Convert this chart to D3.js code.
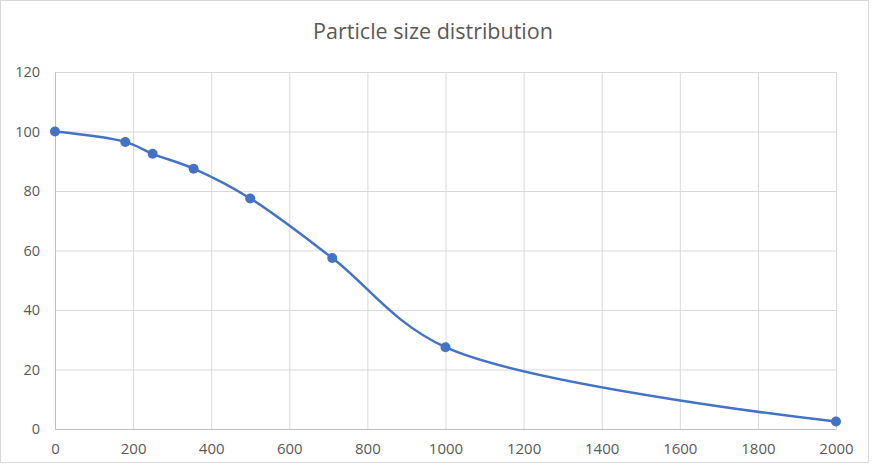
<!DOCTYPE html>
<html>
<head>
<meta charset="utf-8">
<script src="https://cdn.jsdelivr.net/npm/d3@7"></script>
<style>
  body { margin: 0; background: #fff; }
  svg { display: block; font-family: "Open Sans", "DejaVu Sans", sans-serif; }
</style>
</head>
<body>
<svg id="chart" width="873" height="466"></svg>
<script>
// Chart data
const title = 'Particle size distribution';
const sizes = [0, 180, 250, 355, 500, 710, 1000, 2000];
const passing = [100, 96.5, 92.5, 87.5, 77.5, 57.5, 27.5, 2.5];
const xTicks = [0, 200, 400, 600, 800, 1000, 1200, 1400, 1600, 1800, 2000];
const yTicks = [0, 20, 40, 60, 80, 100, 120];

const svg = d3.select('#chart');
const margin = { top: 72, right: 37, bottom: 37, left: 55 };
const width = +svg.attr('width');
const height = +svg.attr('height');
const innerWidth = width - margin.left - margin.right;
const innerHeight = height - margin.top - margin.bottom;
const font = '"Open Sans", "DejaVu Sans", sans-serif';
const blue = '#4472c4';

// outer frame
svg.append('rect')
    .attr('x', 0.5).attr('y', 0.5)
    .attr('width', 868).attr('height', 462)
    .attr('fill', '#fff')
    .attr('stroke', '#d9d9d9');

svg.append('text')
    .attr('x', 433)
    .attr('y', 39)
    .attr('text-anchor', 'middle')
    .attr('font-size', 21.5)
    .attr('fill', '#595959')
    .text(title);

const xScale = d3.scaleLinear().domain([0, 2000]).range([0, innerWidth]);
const yScale = d3.scaleLinear().domain([0, 120]).range([innerHeight, 0]);

const g = svg.append('g')
    .attr('transform', `translate(${margin.left},${margin.top})`);

// gridlines
g.append('g')
    .call(d3.axisLeft(yScale).tickValues(yTicks).tickSize(-innerWidth).tickFormat(''))
    .call(a => a.select('.domain').remove())
    .call(a => a.selectAll('text').remove())
    .call(a => a.selectAll('line').attr('stroke', '#d9d9d9'));

g.append('g')
    .attr('transform', `translate(0,${innerHeight})`)
    .call(d3.axisBottom(xScale).tickValues(xTicks).tickSize(-innerHeight).tickFormat(''))
    .call(a => a.select('.domain').remove())
    .call(a => a.selectAll('text').remove())
    .call(a => a.selectAll('line').attr('stroke', '#d9d9d9'));

// axes
const yAxis = g.append('g')
    .call(d3.axisLeft(yScale).tickValues(yTicks).tickSize(0).tickPadding(15).tickFormat(d3.format('d')))
    .attr('font-family', font)
    .attr('font-size', 14.5);
yAxis.select('.domain').attr('stroke', '#bfbfbf');
yAxis.selectAll('text').attr('fill', '#595959');

const xAxis = g.append('g')
    .attr('transform', `translate(0,${innerHeight})`)
    .call(d3.axisBottom(xScale).tickValues(xTicks).tickSize(0).tickPadding(14).tickFormat(d3.format('d')))
    .attr('font-family', font)
    .attr('font-size', 15);
xAxis.select('.domain').attr('stroke', '#bfbfbf');
xAxis.selectAll('text').attr('fill', '#595959');

const points = sizes.map((s, i) => ({ size: s, value: passing[i] }));

const line = d3.line()
    .x(d => xScale(d.size))
    .y(d => yScale(d.value))
    .curve(d3.curveCatmullRom.alpha(0.5));

g.append('path')
    .datum(points)
    .attr('fill', 'none')
    .attr('stroke', blue)
    .attr('stroke-width', 2.5)
    .attr('d', line);

g.selectAll('circle')
    .data(points)
    .enter().append('circle')
    .attr('cx', d => xScale(d.size))
    .attr('cy', d => yScale(d.value))
    .attr('r', 5)
    .attr('fill', blue);
</script>
</body>
</html>
